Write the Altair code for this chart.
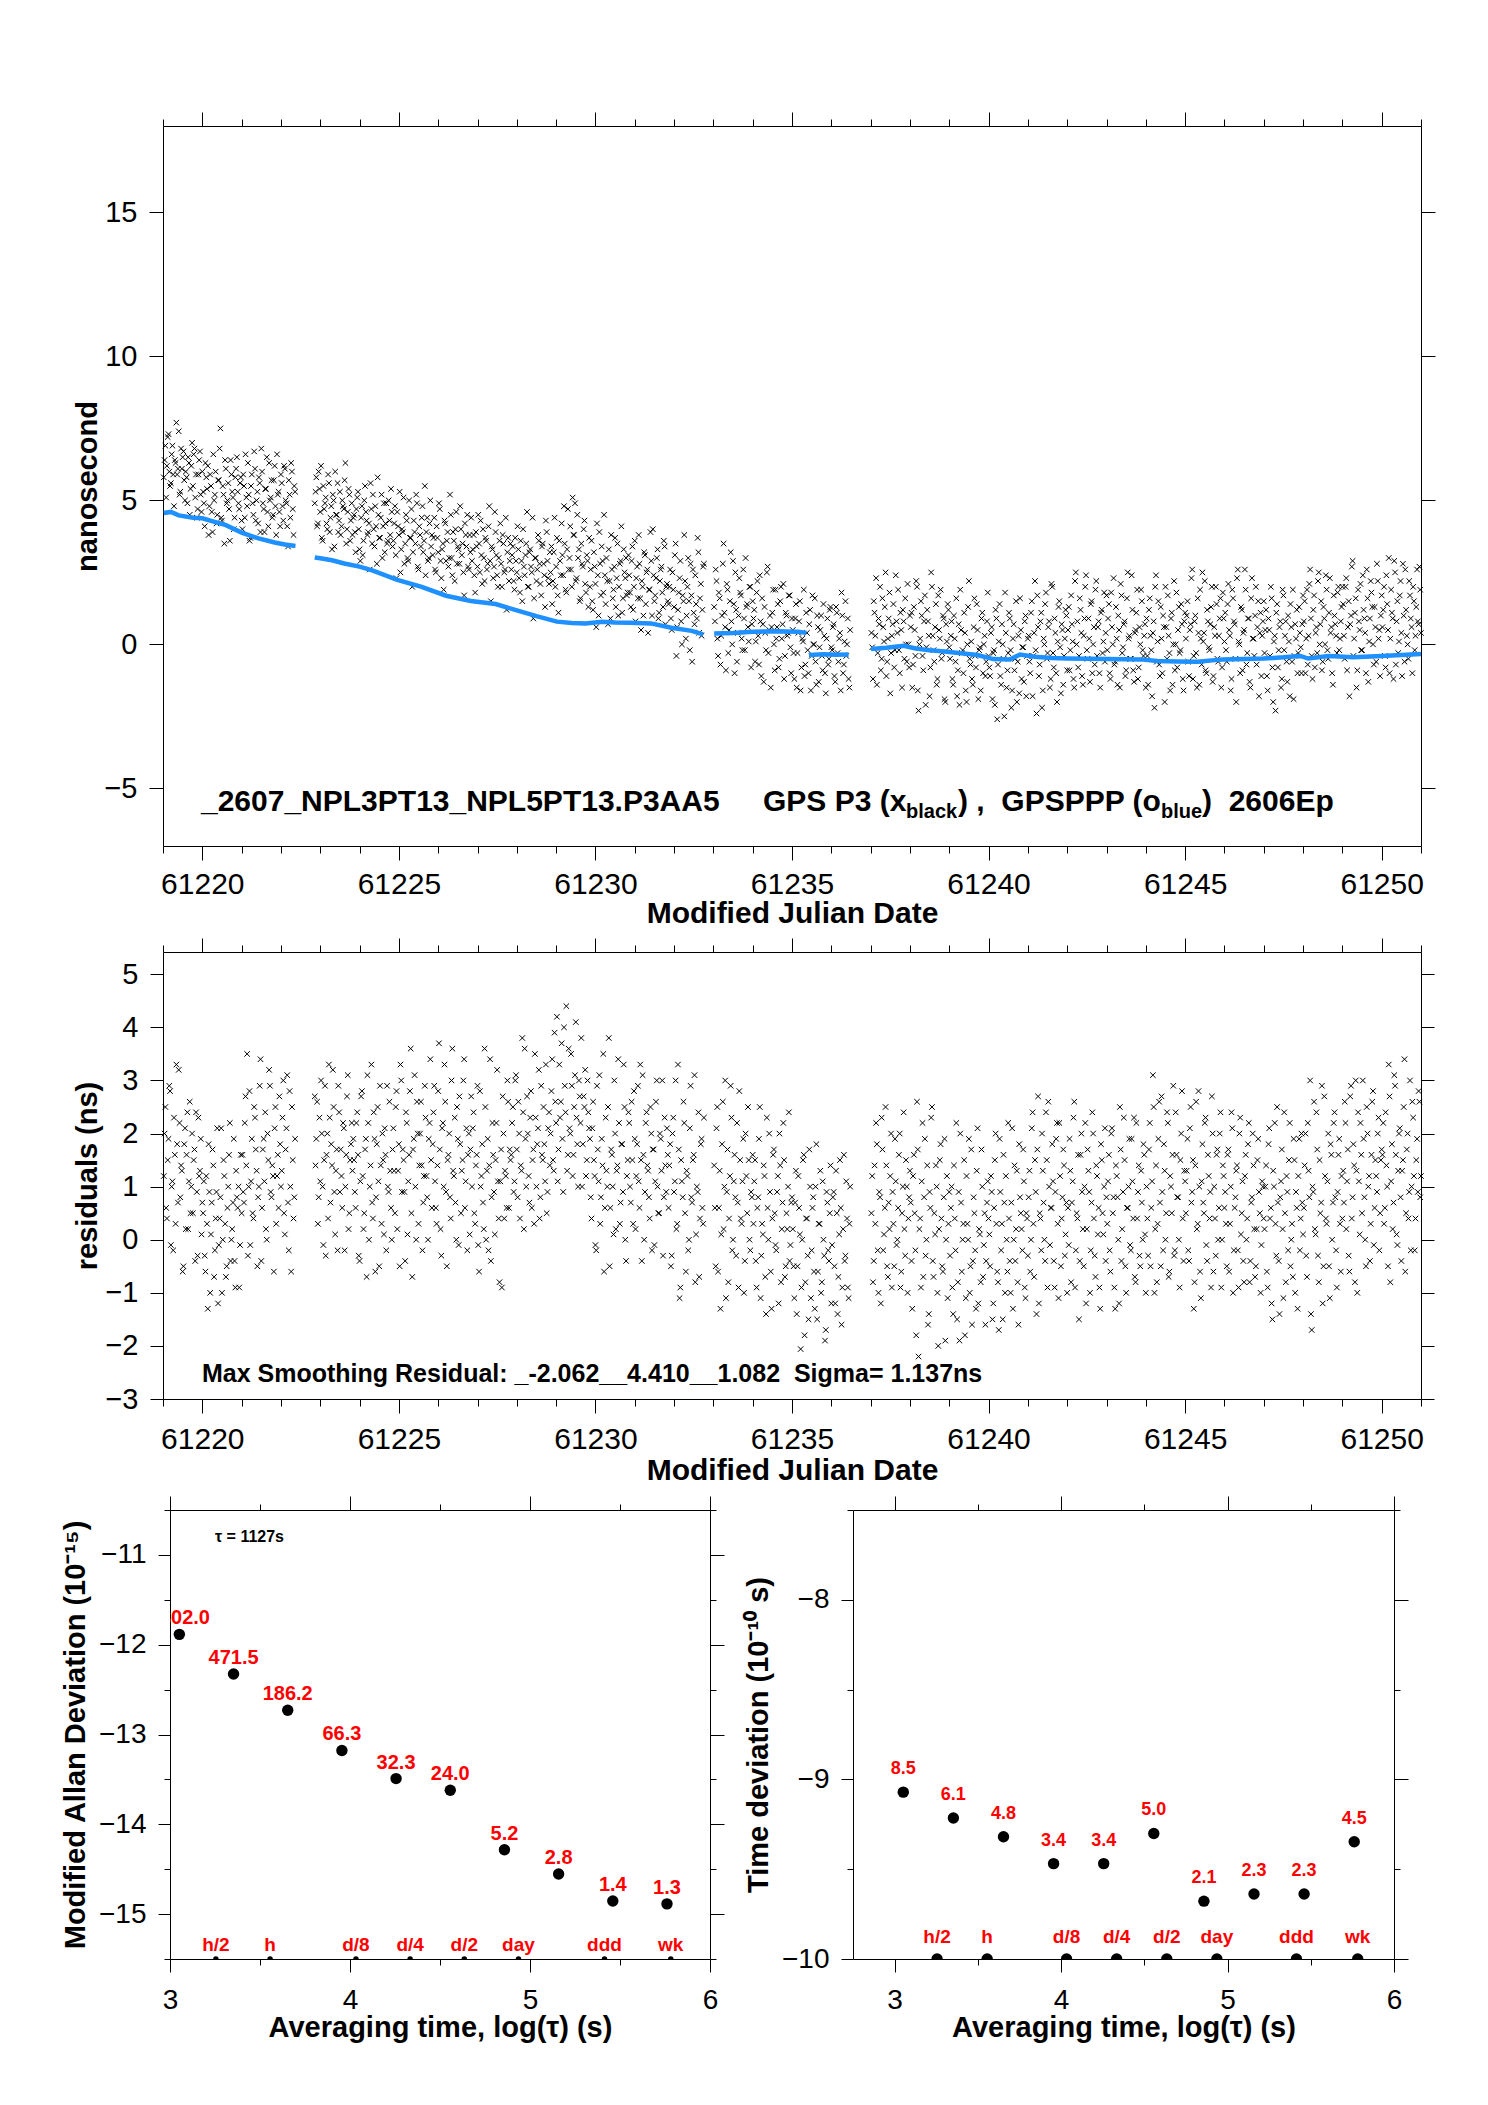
import altair as alt
import pandas as pd

FONT = "Liberation Sans"
BLUE = "#1e90ff"
RED = "#ff0000"
XMARK = "M-1,-1L1,1M-1,1L1,-1"
STEP = 0.04  # spacing of plotted samples within one list (days)

# start MJD of the four data segments; second lists are interleaved half a step later
SEG_START = [61219.02, 61222.86, 61233.02, 61237.02]
SEG_START2 = [61219.04, 61222.88, 61233.04, 61237.04]

# ---------------- GPS P3 (black x), ns ----------------
P3_A = [5.8, 6.9, 6.2, 7.3, 5.5, 6.6, 5.9, 6.4, 7.7, 6.1, 5.2, 6.8, 6.5, 5.7, 6.0, 4.9, 6.3, 5.4, 7.0, 6.6, 5.1, 4.4, 5.9, 6.7, 4.6,
        5.3, 4.1, 5.8, 6.2, 4.8, 5.5, 3.9, 5.0, 6.0, 4.5, 5.7, 7.5, 4.3, 5.2, 6.4, 4.9, 5.6, 3.6, 5.9, 5.1, 4.4, 6.1, 5.3, 4.7, 5.8,
        4.0, 5.5, 6.6, 4.8, 5.2, 3.7, 5.9, 4.5, 6.1, 5.0, 4.2, 5.6, 6.8, 4.9, 3.9, 5.4, 4.6, 6.3, 5.1, 4.4, 5.7, 4.8, 6.6, 5.3, 4.1,
        5.6, 4.3, 6.1, 4.9, 3.4, 5.2, 6.3, 4.7, 5.5]
P3_B = [4.9, 5.8, 4.2, 5.4, 6.2, 3.6, 4.7, 5.1, 4.0, 5.6, 4.4, 3.3, 5.0, 6.0, 4.5, 3.9, 5.3, 4.1, 4.8, 5.7, 3.5, 4.6, 5.2, 4.3, 3.8,
        4.5, 3.2, 5.1, 4.0, 2.9, 4.8, 3.6, 5.5, 4.3, 3.9, 2.6, 4.7, 5.2, 3.4, 4.1, 5.8, 3.7, 4.4, 3.0, 4.9, 4.2, 3.5, 5.0, 3.8, 4.6,
        3.6, 4.8, 2.3, 4.1, 5.3, 3.3, 3.9, 2.8, 4.5, 3.0, 5.0, 3.7, 2.0, 4.3, 3.5, 4.9, 2.6, 3.8, 4.4, 3.2, 5.5, 3.9, 2.9, 4.2, 3.4,
        3.1, 4.4, 2.5, 3.7, 4.9, 2.9, 3.3, 1.9, 4.2, 3.6, 2.7, 5.2, 3.0, 3.9, 2.2, 4.6, 3.4, 2.8, 4.0, 3.5, 1.7, 3.8, 4.5, 2.6, 3.2,
        2.9, 3.8, 1.8, 3.4, 4.5, 2.5, 3.1, 4.0, 2.2, 3.6, 2.8, 4.8, 1.5, 3.3, 2.7, 3.9, 2.4, 3.0, 4.2, 2.0, 3.5, 2.6, 1.2, 3.7, 2.9,
        2.6, 3.4, 1.9, 2.9, 4.1, 2.3, 3.6, 1.5, 2.7, 3.1, 4.6, 2.0, 3.3, 2.5, 0.9, 3.0, 2.2, 3.8, 2.8, 1.7, 3.5, 2.4, 4.3, 2.9, 2.1,
        2.5, 1.4, 3.2, 2.0, 3.7, 1.1, 2.9, 4.2, 2.4, 3.5, 1.8, 4.7, 3.0, 2.6, 5.1, 3.8, 2.2, 4.5, 3.3, 1.6, 2.8, 4.0, 2.1, 3.1, 1.3,
        2.0, 3.6, 1.2, 2.7, 0.6, 2.4, 3.9, 1.7, 2.9, 4.5, 1.4, 2.2, 3.3, 0.9, 2.6, 1.9, 3.7, 2.3, 1.0, 2.8, 4.1, 1.6, 2.5, 3.0, 1.8,
        2.4, 1.3, 3.4, 2.0, 0.8, 2.7, 3.8, 1.6, 2.2, 1.0, 3.1, 2.5, 0.4, 1.9, 2.9, 4.0, 1.5, 2.3, 3.3, 1.1, 2.6, 1.8, 3.6, 0.7, 2.1,
        1.4, 2.6, 0.5, 1.9, 3.1, -0.4, 1.2, 2.3, 0.8, 1.7, 3.8, 0.2, 2.0, 1.5, 2.8, -0.6, 1.1, 2.4, 0.9, 3.2, 1.6, 0.3, 2.7]
P3_C = [1.3, 2.6, 0.2, 1.8, -0.7, 1.0, 3.5, 0.6, 2.1, -0.3, 1.5, 0.8, 2.9, -1.0, 1.2, 0.4, 2.3, 1.7, -0.2, 0.9, 3.0, 1.4, 0.1, 2.0, 0.7,
        0.9, -0.6, 1.8, 0.3, 2.4, -1.1, 0.7, 1.3, -0.2, 2.7, 0.5, -1.5, 1.1, 0.0, 1.9, 0.6, -0.8, 1.5, 0.2, 2.1, -0.4, 1.0, 0.4, 1.7, -1.0,
        0.5, -1.2, 1.4, -0.3, 0.8, -1.6, 0.2, 1.9, -0.7, 0.4, -1.0, 1.2, -0.4, 0.0, 1.6, -1.4, 0.6, -0.1, 1.0, -0.9, 0.3, -1.7, 0.9, -0.5, 1.3,
        -0.2, 0.7, -1.3, 1.1, -0.6, 0.4, 1.8, -1.0, 0.1, -0.4, 0.9, -1.5]
P3_D = [0.4, -1.2, 1.1, 2.3, -0.3, 0.7, -0.9, 1.6, 0.1, 2.5, -0.6, 0.9, -1.7, 0.3, 1.4, -0.2, 0.8, 1.9, -1.0, 0.5, 1.2, -0.5, 0.0, 2.1, -0.8,
        0.6, -1.5, 1.3, -0.4, 2.0, -2.3, 0.2, 1.0, -0.9, 1.7, -0.1, 0.8, -1.8, 2.5, 0.3, -0.6, 1.4, -1.2, 0.5, 1.9, -0.3, 0.9, -2.0, 0.1, 1.2,
        -0.5, 0.8, -1.4, 0.2, 1.6, -0.9, -2.1, 0.5, -0.2, 1.1, -1.6, 0.0, 2.2, -0.7, -1.2, 0.6, -0.4, 1.4, -1.9, -0.1, 0.9, -1.0, 0.3, -0.6, 1.8,
        -0.8, 0.4, -1.9, -0.2, 1.2, -2.6, 0.1, -1.1, 0.7, -0.5, 1.8, -1.5, -0.3, 0.9, -2.2, 0.2, -0.9, 1.5, -0.6, -1.7, 0.5, -0.1, -1.3, 1.0, -0.4,
        0.3, -1.0, 1.5, -0.4, 2.2, -2.4, 0.6, -0.7, 1.1, -1.6, 0.0, 1.8, -0.3, 0.8, -1.2, 2.0, -0.8, 0.4, -2.0, 1.3, -0.1, 0.7, -1.4, 0.2, 1.0,
        0.5, -0.9, 1.7, 0.1, -1.5, 2.5, 0.8, -0.4, 1.2, -1.1, 0.3, 2.0, -0.2, 0.9, -1.3, 1.5, 0.0, -0.7, 2.2, 0.6, -1.0, 1.1, -0.3, 1.8, 0.4,
        -0.2, 1.4, -1.2, 0.6, 2.3, -0.6, 0.2, 1.0, -1.5, 1.7, -0.1, 0.8, -0.9, 2.5, 0.3, -0.5, 1.2, -1.3, 0.5, 1.9, -0.8, 0.0, 1.5, -0.4, 0.7,
        0.9, -1.4, 1.6, -0.2, 0.4, -2.2, 2.4, 0.1, -0.7, 1.3, -1.0, 0.6, 2.0, -0.5, 0.3, -1.6, 1.1, 0.0, -0.9, 1.8, 0.5, -0.3, 1.4, -1.2, 0.8,
        0.2, 1.5, -1.1, 0.7, 2.6, -0.4, 1.0, -1.5, 0.4, 1.9, -0.7, 0.1, 2.2, -1.0, 0.8, -0.2, 1.3, -1.3, 0.6, 2.0, -0.5, 0.3, 1.6, -0.8, 0.9,
        1.1, -0.6, 2.1, 0.3, -1.2, 1.6, 0.7, -2.0, 2.6, 0.0, 1.3, -0.9, 0.5, 1.9, -0.3, 0.9, -1.5, 2.3, 0.2, 1.0, -0.7, 1.5, 0.4, -1.1, 0.8,
        -0.3, 1.2, -1.6, 0.5, 2.0, -0.8, 0.1, -2.3, 1.4, -0.2, 0.8, -1.2, 1.7, 0.3, -0.6, 1.0, -1.8, 0.6, 1.9, -0.4, 0.2, -1.0, 1.3, -0.1, 0.7,
        0.8, -1.0, 1.9, 0.3, 2.6, -0.4, 1.2, -0.8, 0.6, 2.2, 0.0, 1.5, -0.6, 0.9, 2.4, -0.2, 1.1, 0.4, -1.0, 1.7, 0.7, -0.3, 2.0, 0.2, 1.3,
        1.4, -0.5, 2.3, 0.6, -1.8, 1.0, 2.9, 0.2, 1.6, -0.9, 0.8, 2.1, -0.2, 1.2, 0.4, 2.6, -1.3, 0.9, 1.8, 0.0, 1.3, -0.6, 2.2, 0.5, 1.0,
        0.6, 2.0, -0.8, 1.4, 3.0, 0.2, 1.1, -1.2, 2.5, 0.8, -0.3, 1.7, 0.4, 2.8, -0.6, 1.2, 0.0, 2.2, 0.9, -1.0, 1.5, 0.3, 2.6, 0.7, 1.9]
P3_A2 = [6.4, 5.1, 7.2, 6.0, 5.6, 6.9, 4.8, 6.3, 5.9, 7.4, 5.3, 6.1, 6.7, 5.0, 5.8, 6.5, 4.5, 6.2, 5.5, 6.8, 5.9, 4.7, 6.4, 5.2, 6.0,
         4.9, 6.3, 5.4, 3.8, 5.9, 4.6, 6.6, 5.2, 4.2, 5.7, 6.8, 4.4, 5.5, 3.5, 6.1, 5.0, 4.7, 6.4, 5.3, 4.0, 5.8, 6.5, 4.9, 5.6, 4.3,
         5.9, 4.4, 5.1, 6.3, 3.6, 5.5, 4.9, 6.7, 4.3, 5.3, 5.8, 3.9, 6.0, 4.7, 5.4, 6.5, 4.1, 5.0, 5.7, 4.5, 6.2, 3.8, 5.2, 4.6, 5.9,
         4.8, 6.2, 5.0, 4.1, 5.7, 4.4, 6.0, 3.8, 5.3]
P3_B2 = [5.3, 4.1, 6.0, 4.6, 3.7, 5.5, 4.9, 4.2, 5.9, 3.9, 4.8, 5.2, 3.4, 4.5, 5.6, 4.3, 3.8, 5.0, 4.7, 6.3, 4.0, 5.4, 3.6, 4.9, 4.4,
         3.9, 4.7, 5.3, 3.3, 4.4, 3.1, 5.0, 4.6, 3.8, 4.2, 5.6, 3.5, 4.0, 4.8, 2.8, 4.5, 3.7, 5.2, 4.1, 3.2, 4.9, 3.6, 4.3, 5.4, 3.4,
         4.2, 3.1, 4.6, 3.8, 2.5, 4.0, 5.1, 3.5, 4.3, 2.9, 3.7, 4.7, 3.2, 3.9, 5.2, 2.7, 4.1, 3.4, 4.8, 3.6, 2.4, 4.4, 3.0, 5.0, 3.8,
         3.7, 2.6, 4.1, 3.2, 4.7, 2.3, 3.5, 4.3, 2.9, 3.9, 3.0, 4.5, 2.4, 3.6, 4.0, 2.8, 3.3, 4.8, 3.1, 2.5, 4.2, 3.4, 2.7, 3.8, 4.4,
         3.3, 2.4, 3.9, 2.7, 3.5, 4.3, 2.1, 3.0, 3.7, 2.6, 4.1, 2.9, 3.4, 2.3, 4.6, 3.1, 2.0, 3.6, 2.8, 3.8, 2.5, 4.4, 3.2, 2.2, 3.5,
         3.1, 2.2, 3.7, 2.5, 3.3, 1.8, 2.9, 4.0, 2.4, 3.5, 2.0, 3.2, 2.7, 4.4, 1.6, 3.0, 2.6, 3.6, 2.1, 3.4, 2.8, 1.3, 3.9, 2.3, 3.2,
         3.4, 2.2, 4.4, 2.7, 1.7, 3.6, 2.4, 3.1, 4.8, 1.9, 3.3, 2.6, 4.1, 2.0, 3.8, 4.9, 2.3, 3.0, 1.5, 3.5, 2.7, 4.3, 1.8, 2.9, 3.7,
         2.6, 1.5, 3.2, 2.1, 4.2, 1.0, 2.8, 3.4, 1.8, 2.4, 3.0, 0.7, 2.2, 3.8, 1.6, 2.7, 1.3, 3.5, 2.0, 2.9, 1.1, 3.3, 2.3, 1.7, 3.1,
         1.8, 2.9, 1.2, 3.6, 2.3, 1.6, 2.8, 0.5, 2.0, 3.2, 1.4, 2.6, 1.9, 3.9, 1.0, 2.4, 1.7, 3.0, 0.9, 2.2, 2.7, 1.3, 3.4, 2.0, 1.5,
         2.0, 0.9, 2.5, 1.3, 3.5, 0.6, 1.8, 2.9, 0.0, 1.5, 2.2, 1.0, 3.0, -0.2, 1.7, 2.6, 0.7, 1.4, 3.7, 0.4, 2.1, 1.2, 2.8]
P3_C2 = [0.8, 2.2, -0.4, 1.6, 0.3, 2.8, 1.1, -0.9, 1.9, 0.5, 3.2, 0.0, 1.4, 2.5, -0.6, 1.0, 1.8, 0.2, 2.6, -0.2, 1.3, 0.6, 2.0, -0.8, 1.5,
         1.2, 0.1, 2.2, -0.7, 0.8, 1.6, -1.3, 0.4, 2.5, -0.3, 1.0, 0.6, 1.9, -0.9, 0.2, 1.4, -0.5, 2.0, 0.7, -1.2, 1.1, 0.3, 1.7, -0.1, 0.9,
         -0.3, 0.9, -1.5, 0.4, 1.5, -0.8, 0.1, -1.1, 1.1, -0.2, 0.7, -1.6, 1.7, 0.0, -0.6, 1.0, -1.3, 0.5, -0.4, 1.4, -1.0, 0.2, -0.7, 1.2, -0.1,
         0.6, -1.1, 1.3, -0.3, 0.2, -1.6, 1.0, -0.7, 1.5, 0.0, -1.2, 0.5]
P3_D2 = [-0.1, 1.5, 0.3, -1.4, 0.9, 2.0, -0.5, 0.6, 1.3, -1.1, 0.2, 1.8, -0.3, 0.7, -0.8, 2.4, 0.4, -0.2, 1.1, -1.5, 0.8, 1.6, -0.6, 0.0, 1.0,
         1.1, -0.7, 0.5, 2.2, -1.6, 0.0, 1.5, -0.4, 0.8, -2.1, 1.2, 0.3, -0.8, 2.0, -0.2, 0.6, -1.4, 1.7, 0.2, -0.5, 1.0, -1.9, 0.7, 1.4, -0.1,
         0.3, -1.2, 1.0, -0.6, -1.8, 0.7, 1.9, -0.3, -1.0, 0.4, -2.0, 1.3, -0.5, 0.1, -1.4, 1.6, -0.8, 0.5, -0.2, -1.6, 1.1, 0.0, -1.1, 0.8, -0.4,
         -1.1, 0.6, -0.3, -2.1, 0.9, -0.7, 1.4, -1.4, 0.0, -2.5, 0.4, -0.9, 1.1, -0.2, -1.6, 0.7, -0.5, -2.0, 0.3, 1.6, -1.2, -0.1, 0.8, -1.8, 0.2,
         -0.6, 1.1, -1.8, 0.4, -0.2, 1.7, -1.1, 0.8, -2.2, 0.2, 1.4, -0.5, 0.6, -1.5, 2.1, -0.3, 0.9, -1.0, 0.1, 1.5, -1.7, 0.5, -0.4, 1.2, -0.9,
         1.3, -0.2, 0.7, -1.2, 2.2, 0.0, -0.8, 1.6, 0.4, -1.4, 0.9, 2.4, -0.5, 0.2, 1.4, -1.0, 0.6, 1.9, -0.4, 0.8, -1.5, 1.2, 0.1, -0.6, 1.7,
         0.9, -1.0, 1.8, 0.0, -0.7, 1.3, -1.4, 0.5, 2.1, -0.3, 0.7, -1.1, 1.6, 0.2, -0.5, 2.4, -0.9, 0.4, 1.1, -1.2, 0.6, 1.9, -0.2, 0.3, -1.5,
         -0.4, 1.2, 0.3, -1.8, 0.8, 2.0, -0.6, 1.5, -1.1, 0.2, 1.0, -2.0, 0.6, 1.7, -0.3, 0.9, -1.4, 2.2, 0.0, -0.8, 1.3, -0.2, 0.7, -1.6, 1.1,
         1.0, -0.6, 0.5, 2.3, -1.2, 0.8, -0.3, 1.6, -1.4, 0.2, 2.5, 0.4, -0.9, 1.2, -0.1, 0.7, 2.0, -1.1, 0.3, 1.4, -0.6, 0.9, -1.5, 1.8, 0.1,
         -0.2, 1.4, 0.5, -1.6, 1.9, 0.8, -0.5, 2.3, 0.1, -1.0, 1.2, 0.4, 2.6, -0.7, 0.9, -1.3, 1.6, 0.2, -0.4, 2.0, 0.6, -1.8, 1.1, 0.3, 1.5,
         0.5, -1.1, 0.9, -0.4, 1.6, -2.0, 0.3, 1.1, -0.8, 0.6, -1.5, 1.9, -0.2, 0.8, -1.3, 0.1, 1.4, -0.6, -1.9, 0.7, 1.2, -0.3, 0.4, -1.0, 1.7,
         1.5, 0.2, -0.7, 2.1, 0.9, -1.2, 1.7, 0.4, -0.3, 2.5, 0.7, -0.9, 1.3, 0.0, 1.9, -0.5, 2.3, 0.6, -1.4, 1.0, 0.3, 1.8, -0.2, 0.8, 2.0,
         0.3, 2.0, -0.9, 1.5, 0.7, 2.7, -0.4, 1.1, -1.5, 1.9, 0.5, -0.2, 2.4, 0.9, -1.0, 1.6, 0.1, 2.2, 1.3, -0.7, 0.6, 2.8, 0.2, -1.1, 1.7,
         1.2, -0.4, 2.4, 0.5, -1.0, 1.9, 0.9, 2.9, -0.7, 1.5, 0.1, 2.2, -1.1, 1.0, 2.6, 0.3, -0.5, 1.7, 0.6, 2.0, -0.2, 1.3, 0.8, 2.7, 0.4]

# ---------------- residuals, ns ----------------
RES_A = [1.2, 2.5, 0.4, 1.9, 2.8, 1.0, -0.2, 1.6, 3.3, 0.7, 2.2, 1.4, -0.6, 1.8, 0.2, 2.4, 1.1, 0.5, 2.0, 1.5, -0.4, 0.9, 2.3, 1.3, 0.1,
         0.5, -0.3, 1.2, -1.3, 0.9, 0.1, 1.7, -0.7, 0.4, 2.1, -0.1, 0.8, -1.0, 1.5, 0.3, -0.5, 1.0, 2.2, 0.0, 0.7, -0.4, 1.3, 0.6, -0.9, 1.6,
         1.6, 0.7, 2.7, 3.5, 1.0, -0.1, 1.9, 0.4, 2.3, 1.3, 0.8, 2.9, -0.4, 1.7, 1.1, 0.2, 2.0, 3.2, 0.9, 1.4, -0.6, 2.5, 1.2, 0.6, 1.8,
         1.3, 3.0, 0.1, 2.1, 0.7, 2.8, -0.6, 1.5, 0.8]
RES_B = [2.7, 1.9, 0.3, 2.3, 3.0, 1.0, 1.5, -0.3, 2.0, 3.3, 0.7, 1.4, 2.5, 0.1, 1.7, 2.9, 0.9, 1.2, 2.2, -0.2, 1.6, 3.1, 0.5, 1.8, 1.3,
         1.5, 0.6, 2.4, -0.3, 1.1, 2.8, 0.2, 1.7, -0.7, 2.2, 1.0, 3.3, 0.4, 1.9, 0.8, 2.5, -0.5, 1.4, 2.0, 0.1, 1.6, 2.9, 0.9, 1.3, 0.0,
         2.1, 0.5, 2.8, 1.3, -0.5, 3.0, 1.7, 0.9, 2.4, 0.1, 1.6, 3.6, -0.7, 1.9, 1.0, 2.6, 0.3, 2.0, 1.4, 0.7, 2.9, 1.2, 0.0, 2.2, 1.5,
         1.8, 2.9, 0.6, 1.4, 3.7, 0.2, 2.1, 1.0, 2.6, -0.5, 1.6, 0.8, 3.0, 1.3, 2.3, 0.0, 1.9, 2.7, 0.5, 1.5, 3.4, 1.1, -0.2, 2.0, 1.7,
         1.0, 2.4, 0.3, 1.6, -0.1, 2.8, 1.2, 0.7, 3.6, 0.0, 1.9, 1.4, -0.4, 2.2, 0.9, 1.5, 3.2, 0.4, 1.1, -0.9, 2.0, 1.3, 0.6, 2.6, 1.7,
         1.6, 2.5, 1.1, 3.1, 0.8, 2.0, 1.4, 3.8, 0.2, 1.9, 2.7, 1.2, 2.3, 0.6, 1.7, 3.5, 1.0, 2.1, 0.4, 2.9, 1.5, 1.8, 3.3, 0.9, 2.4,
         2.0, 3.4, 1.3, 2.6, 4.2, 1.7, 2.3, 3.7, 0.9, 2.9, 4.4, 1.6, 2.1, 3.5, 1.2, 2.5, 4.1, 1.8, 3.0, 2.2, 1.0, 2.7, 3.2, 1.5, 2.4,
         1.9, 0.4, 2.6, 1.2, -0.2, 1.7, 3.1, 0.8, 1.4, -0.6, 2.3, 1.0, 3.8, 0.6, 1.6, 0.1, 2.0, 1.3, 3.4, 0.3, 1.8, 0.9, 2.5, -0.4, 1.5,
         2.2, 0.7, 1.5, 2.8, 0.2, 1.8, 1.1, 3.3, -0.4, 1.6, 0.9, 2.4, 1.3, 0.4, 2.0, 1.7, -0.1, 2.6, 1.0, 0.5, 1.9, 3.0, 0.8, 1.4, 2.1,
         0.6, 1.8, -0.3, 2.3, 1.1, 0.2, 3.3, -1.1, 1.5, 0.8, 2.2, -0.6, 1.2, 0.0, 2.9, 0.7, 1.6, -0.8, 1.0, 2.4, 0.4, 1.9, 0.3]
RES_C = [1.4, -0.5, 2.5, 0.6, -1.3, 1.8, 0.2, 3.0, 0.9, -0.8, 1.2, 2.3, 0.0, 1.6, -0.3, 0.7, 2.8, 0.4, 1.1, -1.0, 2.0, 0.5, 1.5, -0.2, 0.8,
         0.3, 1.5, -0.9, 0.8, 2.5, -0.3, 0.1, 1.2, -1.4, 0.6, 2.0, -0.6, 0.4, 1.7, -0.1, 0.9, -1.2, 1.4, 0.2, 2.2, -0.7, 0.5, 1.0, -0.4, 0.7,
         0.2, -1.1, 1.3, -0.5, 0.6, -2.06, 0.0, 1.6, -0.8, 0.4, -1.5, 1.0, -0.2, 0.8, -1.3, 1.8, -0.6, 0.3, -1.0, 1.1, -0.3, -1.7, 0.7, -0.4, 1.4,
         -0.1, 0.9, -1.2, 0.5, -0.7, 1.5, -1.6, 0.2, -0.4, 1.1, -0.9, 0.3]
RES_D = [0.5, -0.8, 1.4, 2.2, -0.2, 0.9, -1.2, 1.7, 0.1, 2.5, -0.5, 0.7, 1.2, -0.9, 0.3, 1.9, -0.1, 0.6, 2.0, -0.6, 1.0, 0.2, 1.5, -1.0, 0.8,
         0.7, -1.3, 1.6, -0.2, 2.6, -2.2, 0.4, 1.1, -0.7, 1.9, 0.0, -1.6, 0.9, 2.3, -0.4, 0.5, 1.4, -1.0, 0.2, 1.8, -0.5, 0.8, -1.9, 1.2, 0.3,
         -0.3, 1.0, -1.4, 0.4, 2.2, -0.8, -1.9, 0.7, 0.0, 1.5, -1.1, 0.3, 1.9, -0.5, -1.6, 0.8, -0.2, 1.3, -1.2, 0.1, 1.7, -0.7, 0.5, -0.4, 1.1,
         0.1, 1.2, -1.5, 0.6, 2.0, -0.6, -1.7, 0.9, 0.3, 1.6, -1.0, 0.0, 2.2, -0.4, 0.7, -1.3, 1.4, 0.2, -0.8, 1.8, 0.5, -0.2, 1.1, -1.1, 0.4,
         0.8, -0.6, 2.1, 0.3, 1.5, -1.4, 2.7, 0.5, -0.2, 1.3, 0.0, 2.4, -0.9, 1.0, 0.6, 1.8, -0.4, 0.9, 2.2, -1.1, 1.2, 0.4, 1.7, -0.3, 0.7,
         0.6, 1.9, -0.8, 1.1, 2.6, -0.2, 0.4, -1.5, 1.6, 0.9, -0.5, 2.2, 0.2, 1.3, -1.0, 0.7, 2.0, -0.3, 1.4, 0.1, -0.9, 1.8, 0.5, 1.0, -0.4,
         0.3, 1.6, -0.6, 2.1, 0.8, -1.3, 1.2, 0.0, 2.5, -0.4, 0.9, 1.5, -1.0, 0.6, 1.9, -0.2, 1.1, 2.3, -0.8, 0.4, 1.4, -0.5, 0.7, 1.8, 0.1,
         1.0, -0.3, 2.2, 0.6, 3.1, -1.0, 1.4, 0.3, 2.6, -0.5, 0.9, 1.8, 0.0, 2.4, -0.7, 1.2, 0.5, 2.9, -0.2, 1.6, 0.8, -0.9, 2.0, 0.4, 1.3,
         0.5, 1.9, -0.4, 2.5, 0.9, -1.3, 1.4, 0.2, 2.8, -0.6, 1.1, 0.7, 2.2, -0.1, 1.6, 0.4, -0.9, 2.0, 1.0, -0.3, 1.7, 0.6, 2.4, 0.0, 1.2,
         0.9, -0.5, 1.7, 0.3, 2.4, -1.0, 0.6, 1.3, -0.2, 2.0, 0.1, 1.1, -0.8, 1.6, 0.4, 2.2, -0.4, 0.8, 1.4, -0.7, 0.2, 1.9, 0.5, -0.1, 1.0,
         0.2, 1.4, -0.9, 2.1, 0.6, -1.5, 1.0, 0.3, 2.5, -0.4, 0.8, 1.7, -1.1, 0.5, 1.2, -0.2, 2.2, 0.0, -0.7, 1.5, 0.9, -1.3, 1.9, 0.4, 0.7,
         0.6, 2.0, -0.7, 1.3, 3.0, -1.7, 0.9, 0.2, 2.4, -0.3, 1.5, 0.7, -1.2, 2.7, 0.4, 1.1, -0.5, 1.8, 0.0, 2.2, 0.8, -0.9, 1.6, 0.3, 1.2,
         1.3, 2.6, 0.2, 1.7, -0.6, 2.9, 0.8, 1.4, 3.0, -1.0, 1.1, 2.2, 0.5, 1.9, 0.0, 2.5, 1.0, -0.4, 1.6, 2.8, 0.6, 1.2, 2.0, -0.2, 1.5,
         1.6, 0.3, 2.4, 1.0, 3.3, -0.8, 1.8, 0.7, 2.9, 0.1, 1.3, 2.1, -0.4, 1.5, 3.4, 0.5, 2.0, 0.9, -0.2, 2.6, 1.2, 0.4, 1.9, 2.8, 0.8]
RES_A2 = [2.0, 0.6, 1.5, 2.9, -0.1, 1.1, 2.3, 0.3, 1.8, 3.2, 0.8, 1.3, -0.5, 2.1, 1.6, 0.2, 2.6, 1.0, 0.5, 1.7, 2.4, -0.3, 1.2, 1.9, 0.7,
          1.1, -0.6, 0.3, 1.8, -1.0, 0.7, 1.4, -0.2, 0.9, -1.2, 0.4, 2.1, 0.0, 1.2, -0.7, 0.6, 1.6, -0.4, 0.2, 1.9, -0.9, 0.8, 1.0, -0.1, 0.5,
          0.9, 2.2, 1.4, -0.3, 2.8, 1.1, 0.5, 2.5, 1.7, -0.5, 1.0, 3.4, 0.6, 1.9, 2.4, 0.0, 1.5, 2.9, 0.8, 1.2, 2.1, 0.3, 1.6, 2.7, 1.0,
          2.3, 0.5, 1.7, 3.1, -0.2, 1.0, 2.5, 0.4, 1.9]
RES_B2 = [1.4, 2.6, 0.8, 1.1, 2.0, -0.1, 2.9, 1.6, 0.4, 2.3, 1.8, 3.2, 0.9, 1.3, -0.2, 2.4, 1.7, 0.6, 2.1, 1.0, 2.7, 0.2, 1.5, 2.2, 1.9,
          0.9, 2.2, 1.6, -0.4, 2.7, 1.2, 0.5, 1.9, 3.1, 0.0, 1.4, 0.7, 2.4, -0.6, 1.8, 1.1, 2.9, 0.3, 1.5, 2.1, -0.2, 1.0, 2.6, 0.6, 1.7,
          1.3, 2.5, 0.2, 1.8, 3.3, 0.9, 1.5, -0.4, 2.2, 1.1, 2.8, 0.5, 1.7, 3.1, 0.0, 2.0, 1.4, 2.6, -0.2, 1.2, 2.3, 0.8, 1.9, 3.4, 0.6,
          2.4, 1.1, 0.3, 2.8, 1.7, -0.3, 2.2, 3.3, 0.9, 1.5, 2.0, 0.4, 3.6, 1.2, 0.7, 2.5, -0.1, 1.8, 1.3, 3.0, 0.6, 2.1, 1.6, 0.1, 2.7,
          2.1, 0.5, 1.4, 2.9, -0.6, 1.0, 1.8, 0.2, 2.5, 1.3, -0.2, 3.4, 0.8, 1.6, 0.1, 2.2, 1.1, -0.8, 1.7, 2.7, 0.4, 1.2, 3.0, 0.6, 1.5,
          2.2, 0.9, 3.0, 1.7, 2.6, 0.4, 1.3, 2.4, 3.6, 1.0, 2.0, 0.7, 2.8, 1.5, 0.3, 2.3, 1.8, 3.2, 0.8, 1.6, 2.5, 1.1, 0.5, 2.1, 1.4,
          2.8, 1.5, 3.9, 2.2, 1.1, 3.3, 2.6, 1.9, 4.0, 2.4, 1.3, 3.6, 2.0, 2.9, 1.6, 3.1, 2.3, 1.0, 2.7, 3.8, 1.8, 2.5, 1.2, 3.0, 2.1,
          0.8, 2.1, 1.5, -0.1, 2.9, 1.1, 0.3, 1.9, 3.5, 0.6, 1.3, 2.5, -0.5, 1.7, 1.0, 3.0, 0.2, 1.4, 2.2, 0.7, 1.8, 3.3, 0.0, 1.2, 2.4,
          1.0, 2.6, 0.3, 1.9, 1.2, 2.9, 0.6, 1.5, 3.1, 0.0, 2.2, 1.4, 0.8, 2.5, -0.2, 1.7, 1.1, 3.0, 0.5, 2.0, 1.3, -0.3, 2.3, 0.9, 1.6,
          1.4, -0.5, 2.0, 0.9, 3.0, 0.3, 1.7, -0.9, 1.1, 2.6, 0.5, 1.3, -0.2, 2.1, 0.8, 1.5, 3.1, 0.1, 0.9, -0.7, 1.8, 0.6, 2.3]
RES_C2 = [0.6, 2.1, -0.6, 1.3, 0.1, 2.6, 1.0, -1.1, 1.7, 0.4, 2.9, -0.2, 1.1, 0.8, 2.2, -0.9, 1.5, 0.3, 1.9, -0.4, 1.2, 2.5, 0.0, 0.9, 1.6,
          1.1, -0.4, 0.6, 1.9, -1.1, 0.3, 1.4, -0.7, 2.3, 0.0, 0.9, -1.3, 1.6, 0.5, -0.2, 1.2, 2.0, -0.8, 0.7, 1.5, -0.5, 0.2, 2.4, -0.1, 0.8,
          -0.5, 0.7, -1.4, 1.2, 0.1, -0.9, 1.5, -1.8, 0.4, -0.3, 1.7, -1.1, 0.6, -0.6, 1.0, -1.5, 0.3, 1.3, -0.8, 0.0, -1.9, 0.9, -0.2, 0.5, -1.2,
          0.8, -0.5, 1.3, -1.4, 0.1, 0.6, -0.9, 1.6, -0.3, 0.4, -1.1, 1.0]
RES_D2 = [1.2, -0.4, 0.3, 1.8, -1.0, 0.8, 2.3, -0.2, 0.6, 1.4, -0.7, 0.2, 2.0, 0.9, -0.5, 1.1, 0.0, 1.6, -0.9, 0.5, 2.4, -0.3, 1.0, 0.4, 1.3,
          -0.4, 1.2, 0.5, -1.8, 1.7, 0.2, -0.9, 2.2, 0.8, -0.3, 1.4, -1.4, 0.6, 2.5, -0.7, 0.1, 1.0, -2.0, 1.5, 0.4, -0.6, 1.9, 0.0, -1.1, 0.9,
          0.6, -0.9, 1.4, -0.2, -1.5, 0.9, 2.0, -0.6, 0.3, -1.8, 1.2, 0.0, -1.0, 1.7, -0.4, 0.5, -1.3, 2.1, 0.2, -0.8, 1.0, -0.1, -1.6, 0.7, 0.4,
          -0.5, 0.9, -1.2, 1.5, 0.3, -0.8, 1.9, -0.2, -1.5, 0.7, 1.2, -0.6, 0.4, -1.0, 2.1, 0.0, -0.4, 1.3, -1.6, 0.8, 0.2, 1.7, -0.9, 0.5, -0.3,
          1.3, 0.0, 2.4, -0.7, 0.9, 1.7, -1.2, 0.4, 2.0, 0.7, -0.4, 1.5, 2.6, -0.1, 0.6, 1.1, -0.9, 1.9, 0.3, 2.2, -0.5, 0.8, 1.4, 0.1, -1.0,
          -0.1, 1.3, 0.7, 2.3, -0.9, 0.5, 1.6, -0.4, 2.0, 0.2, 1.0, -1.2, 1.7, 0.9, -0.2, 2.4, 0.4, -0.7, 1.2, 0.6, -1.3, 1.5, 0.1, 2.1, 0.8,
          1.1, -0.2, 2.0, 0.5, -0.9, 1.4, 0.8, -1.2, 1.7, 0.2, 2.3, -0.5, 0.6, 1.0, -0.1, 1.9, 0.4, -0.7, 2.2, 0.9, -0.3, 1.3, 0.0, 1.6, -1.0,
          0.4, 1.7, -0.5, 1.1, 2.5, 0.2, -0.8, 1.9, 0.7, 2.7, -0.2, 1.3, 0.5, 2.2, -0.6, 1.0, 1.6, -0.3, 2.4, 0.8, 0.0, 1.5, 2.8, -0.4, 1.1,
          1.3, -0.2, 2.1, 0.7, 1.5, -0.8, 2.6, 0.3, 1.0, -1.1, 1.8, 0.5, 2.3, -0.4, 1.2, 0.9, 2.7, -0.6, 0.4, 1.6, 0.0, 2.0, -0.9, 1.4, 0.6,
          0.3, 1.6, -0.6, 1.0, 2.1, -0.2, 0.8, 1.4, -0.9, 2.3, 0.5, -0.4, 1.2, 0.0, 1.8, -0.8, 0.7, 2.0, 0.2, -0.5, 1.5, 0.9, -1.0, 1.1, 0.4,
          1.0, -0.6, 1.8, 0.4, -1.2, 1.3, 2.2, -0.3, 0.7, -1.4, 1.1, 0.2, 2.4, -0.8, 0.9, 1.5, -0.5, 0.3, 1.9, -1.0, 0.6, 1.2, -0.2, 2.0, 0.1,
          1.4, -0.3, 2.2, 0.8, -1.4, 1.0, 2.6, 0.1, 1.7, -0.8, 0.5, 2.9, -0.5, 1.2, 0.3, 2.0, -1.1, 1.6, 0.7, 2.4, -0.2, 0.9, 1.9, -0.6, 0.4,
          0.7, 2.2, 1.1, -0.3, 2.7, 0.4, 1.8, -0.8, 1.3, 2.4, 0.1, 1.6, 3.0, 0.8, -0.5, 2.0, 1.2, 0.3, 2.6, -0.1, 1.5, 0.9, 2.3, 0.5, 1.7,
          2.2, 0.6, 1.4, -0.5, 2.7, 1.1, 0.2, 3.1, 1.6, -0.1, 2.0, 0.8, 1.3, 2.5, -0.6, 1.7, 0.4, 3.0, 1.0, 2.3, -0.2, 1.5, 0.9, 2.6, 1.2]

# ---------------- GPSPPP (blue), ns ----------------
PPP_T = [
    [61219.02, 61219.2, 61219.4, 61219.77, 61220.0, 61220.29, 61220.6, 61221.0, 61221.43, 61221.84, 61222.1, 61222.37],
    [61222.86, 61223.0, 61223.3, 61223.61, 61224.0, 61224.34, 61224.96, 61225.58, 61226.2, 61226.83, 61227.46, 61227.98,
     61228.5, 61229.02, 61229.4, 61229.75, 61230.17, 61230.5, 61230.88, 61231.41, 61231.93, 61232.45, 61232.74],
    [61233.02, 61233.5, 61234.01, 61234.6, 61235.15, 61235.37],
    [61235.43, 61235.8, 61236.1, 61236.44],
    [61237.01, 61237.4, 61237.84, 61238.15, 61238.5, 61238.88, 61239.3, 61239.72, 61240.12, 61240.55, 61240.8, 61241.17,
     61241.6, 61242.0, 61242.5, 61243.04, 61243.87, 61244.29, 61244.8, 61245.32, 61245.95, 61246.5, 61246.99, 61247.5,
     61247.93, 61248.13, 61248.65, 61249.28, 61250.0, 61250.5, 61251.0],
]
PPP_V = [
    [4.56, 4.60, 4.48, 4.40, 4.38, 4.26, 4.14, 3.88, 3.68, 3.54, 3.47, 3.42],
    [3.02, 2.99, 2.92, 2.81, 2.70, 2.56, 2.24, 2.00, 1.69, 1.51, 1.40, 1.19,
     0.98, 0.79, 0.74, 0.73, 0.79, 0.76, 0.75, 0.73, 0.58, 0.47, 0.35],
    [0.38, 0.40, 0.44, 0.46, 0.44, 0.40],
    [-0.37, -0.34, -0.36, -0.35],
    [-0.16, -0.12, -0.05, -0.14, -0.20, -0.25, -0.31, -0.37, -0.51, -0.52, -0.35, -0.43,
     -0.47, -0.49, -0.50, -0.51, -0.52, -0.58, -0.59, -0.60, -0.52, -0.51, -0.49, -0.45,
     -0.40, -0.49, -0.40, -0.45, -0.40, -0.37, -0.33],
]

# ---------------- stability ----------------
LOGTAU = [3.052, 3.353, 3.654, 3.955, 4.256, 4.557, 4.858, 5.159, 5.460, 5.761]
MDEV = [-11.885, -12.327, -12.730, -13.178, -13.491, -13.620, -14.284, -14.553, -14.854, -14.886]
MDEV_LAB = ["1302.0", "471.5", "186.2", "66.3", "32.3", "24.0", "5.2", "2.8", "1.4", "1.3"]
TDEV = [-9.071, -9.215, -9.319, -9.469, -9.469, -9.301, -9.678, -9.638, -9.638, -9.347]
TDEV_LAB = ["8.5", "6.1", "4.8", "3.4", "3.4", "5.0", "2.1", "2.3", "2.3", "4.5"]
MARK_X = [3.255, 3.556, 4.033, 4.334, 4.635, 4.936, 5.414, 5.782]
MARK_LAB = ["h/2", "h", "d/8", "d/4", "d/2", "day", "ddd", "wk"]

MJD_MAJOR = [61220, 61225, 61230, 61235, 61240, 61245, 61250]
MJD_MINOR = list(range(61219, 61252))

XDOM = [61219, 61251]
TOP_YDOM = [-7, 18]
MID_YDOM = [-3, 5.42]
L_XDOM, L_YDOM = [3, 6], [-15.5, -10.5]
R_XDOM, R_YDOM = [2.75, 6], [-10, -7.5]


def sample_df(segs, starts):
    rows = []
    for start, vals in zip(starts, segs):
        for i, v in enumerate(vals):
            rows.append({"t": round(start + i * STEP, 3), "v": v})
    return rows


def scale(dom):
    return alt.Scale(domain=dom, nice=False, zero=False)


def tick_axis(orient, values, size):
    return alt.Axis(orient=orient, values=values, tickSize=size, labels=False, title=None,
                    domain=False, grid=False, ticks=True)


def label_axis(orient, values, size, lsize, pad, title, tsize, **kw):
    return alt.Axis(orient=orient, values=values, tickSize=size, labels=True, labelFontSize=lsize,
                    labelPadding=pad, format="d", title=title, titleFontSize=tsize,
                    titleFontWeight="bold", domain=False, grid=False, ticks=True, **kw)


def axes_layers(xdom, ydom, pairs):
    out = []
    for xa, ya in pairs:
        d = pd.DataFrame({"ax": [xdom[0]], "ay": [ydom[0]]})
        out.append(alt.Chart(d).mark_point(opacity=0).encode(
            x=alt.X("ax:Q", scale=scale(xdom), axis=xa),
            y=alt.Y("ay:Q", scale=scale(ydom), axis=ya)))
    return out


def txt(s, x, y, size, color="black", weight="bold", align="left"):
    return alt.Chart(pd.DataFrame({"s": [s]})).mark_text(
        align=align, baseline="alphabetic", fontSize=size, fontWeight=weight,
        color=color, font=FONT).encode(x=alt.value(x), y=alt.value(y), text="s:N")


def mjd_axis(pad, ty):
    return label_axis("bottom", MJD_MAJOR, 14, 30, pad, "Modified Julian Date", 30,
                      labelBaseline="alphabetic", titleY=ty, titleBaseline="alphabetic")


# ================= top panel =================
p3_df = pd.DataFrame(sample_df([P3_A, P3_B, P3_C, P3_D], SEG_START)
                     + sample_df([P3_A2, P3_B2, P3_C2, P3_D2], SEG_START2))
ppp_rows = []
for k, (ts, vs) in enumerate(zip(PPP_T, PPP_V)):
    for t, v in zip(ts, vs):
        ppp_rows.append({"t": t, "v": v, "seg": k})
ppp_df = pd.DataFrame(ppp_rows)

black = alt.Chart(p3_df).mark_point(shape=XMARK, filled=False, color="black", strokeWidth=1,
                                    size=30, opacity=1).encode(
    x=alt.X("t:Q", scale=scale(XDOM), axis=None),
    y=alt.Y("v:Q", scale=scale(TOP_YDOM), axis=None))
blue = alt.Chart(ppp_df).mark_line(color=BLUE, strokeWidth=4.5).encode(
    x=alt.X("t:Q", scale=scale(XDOM), axis=None),
    y=alt.Y("v:Q", scale=scale(TOP_YDOM), axis=None),
    detail="seg:N")
anchor = alt.Chart(pd.DataFrame({"a": [0]})).mark_rule(strokeOpacity=0).encode(
    x=alt.value(-154), x2=alt.value(-154), y=alt.value(-117), y2=alt.value(-117))

top_texts = [
    txt("_2607_NPL3PT13_NPL5PT13.P3AA5", 38, 685, 30),
    txt("GPS P3 (x", 600, 685, 30),
    txt("black", 743, 692, 20),
    txt(")\u00a0,\u00a0\u00a0GPSPPP (o", 795, 685, 30),
    txt("blue", 998, 692, 20),
    txt(")\u00a0\u00a02606Ep", 1039, 685, 30),
]
top_axes = axes_layers(XDOM, TOP_YDOM, [
    (mjd_axis(33, 76),
     label_axis("left", [-5, 0, 5, 10, 15], 14, 29, 12, "nanosecond", 29,
                titleX=-67, titleY=360, titleAngle=270, titleAlign="center", titleBaseline="alphabetic")),
    (tick_axis("bottom", MJD_MINOR, 7), None),
    (tick_axis("top", MJD_MAJOR, 14), tick_axis("right", [-5, 0, 5, 10, 15], 14)),
    (tick_axis("top", MJD_MINOR, 7), None),
])
top = alt.layer(black, blue, *top_texts, anchor, *top_axes).resolve_axis(
    x="independent", y="independent").properties(width=1258, height=720)

# ================= middle panel =================
res_df = pd.DataFrame(sample_df([RES_A, RES_B, RES_C, RES_D], SEG_START)
                      + sample_df([RES_A2, RES_B2, RES_C2, RES_D2], SEG_START2))
res_pts = alt.Chart(res_df).mark_point(shape=XMARK, filled=False, color="black", strokeWidth=1,
                                       size=30, opacity=1).encode(
    x=alt.X("t:Q", scale=scale(XDOM), axis=None),
    y=alt.Y("v:Q", scale=scale(MID_YDOM), axis=None))
mid_text = txt("Max Smoothing Residual: _-2.062__4.410__1.082\u00a0\u00a0Sigma= 1.137ns", 39, 430, 25)
mid_axes = axes_layers(XDOM, MID_YDOM, [
    (mjd_axis(35, 80),
     label_axis("left", list(range(-3, 6)), 13, 29, 12, "residuals (ns)", 29,
                titleX=-67, titleY=223.5, titleAngle=270, titleAlign="center", titleBaseline="alphabetic")),
    (tick_axis("bottom", MJD_MINOR, 7), None),
    (tick_axis("top", MJD_MAJOR, 14), tick_axis("right", list(range(-3, 6)), 13)),
    (tick_axis("top", MJD_MINOR, 7), None),
])
mid = alt.layer(res_pts, mid_text, *mid_axes).resolve_axis(
    x="independent", y="independent").properties(width=1258, height=447)


# ================= bottom panels =================
def stab_panel(xdom, ydom, yvals, labs, lab_size, lab_dy, mark_size, mark_y, mark_dy,
               y_major, y_minor, ytitle, extra):
    d = pd.DataFrame({"x": LOGTAU, "y": yvals, "lab": labs})
    m = pd.DataFrame({"x": MARK_X, "y": [mark_y] * len(MARK_X), "lab": MARK_LAB})
    X = alt.X("x:Q", scale=scale(xdom), axis=None)
    Y = alt.Y("y:Q", scale=scale(ydom), axis=None)
    pts = alt.Chart(d).mark_circle(size=130, color="black", opacity=1).encode(x=X, y=Y)
    lab = alt.Chart(d).mark_text(color=RED, fontWeight="bold", fontSize=lab_size, dy=lab_dy,
                                 baseline="alphabetic", clip=True, font=FONT).encode(x=X, y=Y, text="lab:N")
    mk = alt.Chart(m).mark_circle(size=mark_size, color="black", opacity=1, clip=True).encode(x=X, y=Y)
    mkl = alt.Chart(m).mark_text(color=RED, fontWeight="bold", fontSize=19, dy=mark_dy,
                                 baseline="alphabetic", font=FONT).encode(x=X, y=Y, text="lab:N")
    axes = axes_layers(xdom, ydom, [
        (label_axis("bottom", [3, 4, 5, 6], 13, 28, 36, "Averaging time, log(\u03c4) (s)", 29,
                    labelBaseline="alphabetic", titleY=77, titleBaseline="alphabetic"),
         label_axis("left", y_major, 12, 28, 12, ytitle, 29,
                    titleX=-86, titleY=224.5, titleAngle=270, titleAlign="center", titleBaseline="alphabetic")),
        (tick_axis("bottom", [3.5, 4.5, 5.5], 6), tick_axis("left", y_minor, 6)),
        (tick_axis("top", [3, 4, 5, 6], 14), tick_axis("right", y_major, 14)),
        (tick_axis("top", [3.5, 4.5, 5.5], 6), tick_axis("right", y_minor, 6)),
    ])
    return alt.layer(pts, lab, mk, mkl, *extra, *axes).resolve_axis(
        x="independent", y="independent")


left = stab_panel(L_XDOM, L_YDOM, MDEV, MDEV_LAB, 20, -10, 30, -15.5, -8,
                  [-15, -14, -13, -12, -11], [-15.5, -14.5, -13.5, -12.5, -11.5, -10.5],
                  "Modified Allan Deviation (10\u207b\u00b9\u2075)",
                  [txt("\u03c4 = 1127s", 45, 32, 16)]).properties(width=540, height=449)
right = stab_panel(R_XDOM, R_YDOM, TDEV, TDEV_LAB, 18, -18, 130, -10, -16,
                   [-10, -9, -8], [-9.5, -8.5, -7.5],
                   "Time deviation (10\u207b\u00b9\u2070 s)", []).properties(width=541, height=449)

spacer = alt.Chart(pd.DataFrame({"a": [0]})).mark_point(opacity=0).encode(
    x=alt.value(0), y=alt.value(0)).properties(width=1, height=1, view=alt.ViewBackground(stroke="transparent"))

upper = alt.vconcat(top, mid, spacing=106, bounds="flush")
lower = alt.hconcat(spacer, alt.hconcat(left, right, spacing=143, bounds="flush"), spacing=6, bounds="flush")

# nested concat groups count as zero height in a flush layout, so the gap below
# the upper block is given from its top edge: 720 + 106 + 447 + 111
chart = alt.vconcat(upper, lower, spacing=1384, bounds="flush").properties(
    padding=0, background="white"
).configure_view(stroke="black", strokeWidth=1).configure_axis(
    labelFont=FONT, titleFont=FONT, labelColor="black", titleColor="black", tickColor="black",
    tickWidth=1, domain=False, grid=False, labelFlush=False, labelOverlap=False
).configure_text(font=FONT)

chart.save("out.html", embed_options={"renderer": "svg", "actions": False})
